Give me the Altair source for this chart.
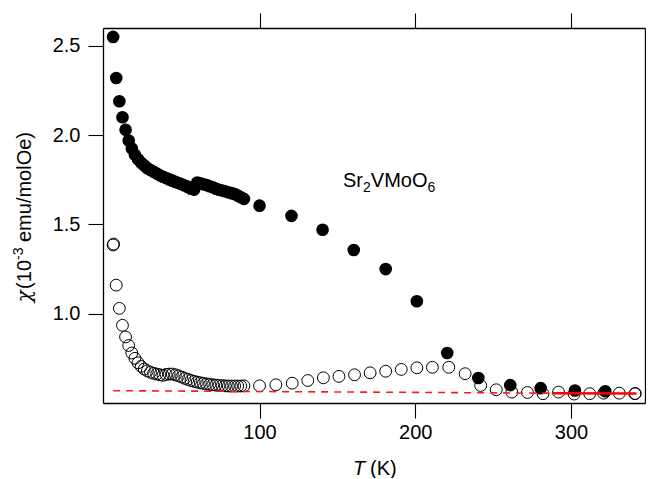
import altair as alt
import pandas as pd

# ---- data ----
T_filled = [6, 8, 10, 12, 14, 16, 18, 20, 22, 24, 26, 28, 30, 32, 34, 36, 38, 40,
            42, 44, 46, 48, 50, 52, 54, 56, 58, 60, 62, 64, 66, 68, 70, 72, 74, 76,
            78, 80, 82, 84, 86, 88, 90, 100, 120.5, 140.5, 160.5, 181, 201, 220.5,
            240.5, 261, 280.5, 302.5, 322]
chi_filled = [2.55, 2.32, 2.19, 2.10, 2.03, 1.97, 1.925, 1.89, 1.865, 1.845, 1.83,
              1.815, 1.805, 1.795, 1.785, 1.775, 1.767, 1.76, 1.752, 1.745, 1.738,
              1.732, 1.725, 1.718, 1.71, 1.70, 1.695, 1.735, 1.73, 1.725, 1.72,
              1.714, 1.708, 1.70, 1.694, 1.69, 1.685, 1.68, 1.675, 1.67, 1.662,
              1.652, 1.643, 1.605, 1.548, 1.47, 1.357, 1.25, 1.07, 0.78, 0.64,
              0.60, 0.583, 0.57, 0.566]

T_open = [6, 6.3, 8, 10, 12, 14, 16, 18, 20, 22, 24, 26, 28, 30, 32, 34, 36, 38,
          40, 42, 44, 46, 48, 50, 52, 54, 56, 58, 60, 62, 64, 66, 68, 70, 72, 74,
          76, 78, 80, 82, 84, 86, 88, 90, 100, 110.5, 121, 131, 141, 151, 161,
          171, 181, 191, 201, 211, 221.5, 232, 242, 252, 262, 272, 282, 292, 302,
          312, 321, 331, 341, 341.3]
chi_open = [1.385, 1.39, 1.16, 1.03, 0.935, 0.87, 0.822, 0.78, 0.75, 0.725, 0.705,
            0.69, 0.68, 0.672, 0.666, 0.662, 0.658, 0.655, 0.66, 0.662, 0.662,
            0.658, 0.652, 0.645, 0.638, 0.632, 0.626, 0.621, 0.617, 0.613, 0.61,
            0.607, 0.604, 0.602, 0.60, 0.598, 0.597, 0.596, 0.595, 0.595, 0.595,
            0.595, 0.595, 0.596, 0.596, 0.602, 0.611, 0.626, 0.641, 0.649, 0.658,
            0.669, 0.678, 0.688, 0.697, 0.70, 0.70, 0.664, 0.598, 0.574, 0.561,
            0.559, 0.552, 0.561, 0.55, 0.552, 0.555, 0.555, 0.552, 0.553]

T_dash = [6, 288]
chi_dash = [0.569, 0.555]
T_fit = [288, 342]
chi_fit = [0.555, 0.553]

x_ticks = [100, 200, 300]
y_ticks = [1.0, 1.5, 2.0, 2.5]

FONT = "Liberation Sans"

df_f = pd.DataFrame({"T": T_filled, "chi": chi_filled})
df_o = pd.DataFrame({"T": T_open, "chi": chi_open})
df_d = pd.DataFrame({"T": T_dash, "chi": chi_dash})
df_s = pd.DataFrame({"T": T_fit, "chi": chi_fit})

xs = alt.Scale(domain=[-0.5, 347.5], nice=False, zero=False)
ys = alt.Scale(domain=[0.5, 2.6], nice=False, zero=False)

common = dict(grid=False, tickSize=15, tickColor="black", domainColor="black",
              domainWidth=1.3, tickWidth=1.1, labelFont=FONT, labelFontSize=20,
              labelColor="black", title=None)

ax_bottom = alt.Axis(orient="bottom", values=x_ticks, format="d", labelPadding=4, **common)
ax_left = alt.Axis(orient="left", values=y_ticks, format=".1f", labelPadding=8, **common)
ax_top = alt.Axis(orient="top", values=x_ticks, labels=False, **common)
ax_right = alt.Axis(orient="right", values=y_ticks, labels=False, **common)

open_pts = alt.Chart(df_o).mark_point(shape="circle", filled=False, color="black",
                                       strokeWidth=1, size=140, opacity=1).encode(
    x=alt.X("T:Q", scale=xs, axis=ax_top),
    y=alt.Y("chi:Q", scale=ys, axis=ax_right),
)

filled_pts = alt.Chart(df_f).mark_circle(color="black", size=160, opacity=1).encode(
    x=alt.X("T:Q", scale=xs, axis=ax_bottom),
    y=alt.Y("chi:Q", scale=ys, axis=ax_left),
)

dash_line = alt.Chart(df_d).mark_line(color="#ff1a1a", strokeWidth=1.6,
                                       strokeDash=[7, 6]).encode(
    x=alt.X("T:Q", scale=xs, axis=None),
    y=alt.Y("chi:Q", scale=ys, axis=None),
)
fit_line = alt.Chart(df_s).mark_line(color="#ff0000", strokeWidth=2.5).encode(
    x=alt.X("T:Q", scale=xs, axis=None),
    y=alt.Y("chi:Q", scale=ys, axis=None),
)

one = pd.DataFrame({"a": [0]})


def label(text, x, y, size=20, dx=0, dy=0, align="left", angle=0, style="normal",
          font=FONT):
    kw = dict(text=text, font=font, fontSize=size, color="black", align=align,
              baseline="alphabetic", dx=dx, dy=dy, fontStyle=style)
    if angle:
        kw["angle"] = angle
    return alt.Chart(one).mark_text(**kw).encode(x=alt.value(x), y=alt.value(y))


# compound label Sr2VMoO6 (positions in plot pixels)
ax0, ay0 = 240, 159
formula = [
    label("Sr", ax0, ay0),
    label("2", ax0, ay0, size=14, dx=20, dy=5),
    label("VMoO", ax0, ay0, dx=27.8),
    label("6", ax0, ay0, size=14, dx=84.5, dy=5),
]

# y-axis title with superscript (rotated)
tx, ty = -72, 232
ytitle = [
    label("χ", tx, ty, align="right", angle=270, dx=-30, font="DejaVu Serif", style="italic"),
    label("(10", tx, ty, align="right", angle=270),
    label("-3", tx, ty, size=14, dy=-8, angle=270),
    label("emu/molOe)", tx, ty, dx=18, angle=270),
]

# x-axis title with italic T
xtitle = [
    label("T", 250, 447, style="italic"),
    label("(K)", 250, 447, dx=17),
]

chart = alt.layer(open_pts, filled_pts, dash_line, fit_line, *formula, *ytitle, *xtitle).resolve_axis(
    x="independent", y="independent"
).properties(
    width=542, height=375,
    autosize=alt.AutoSizeParams(type="none"),
    padding={"left": 95, "top": 20, "right": 1, "bottom": 75},
    background="white",
).configure_view(stroke=None)

chart.save("out.html", embed_options={"renderer": "svg", "actions": False})
